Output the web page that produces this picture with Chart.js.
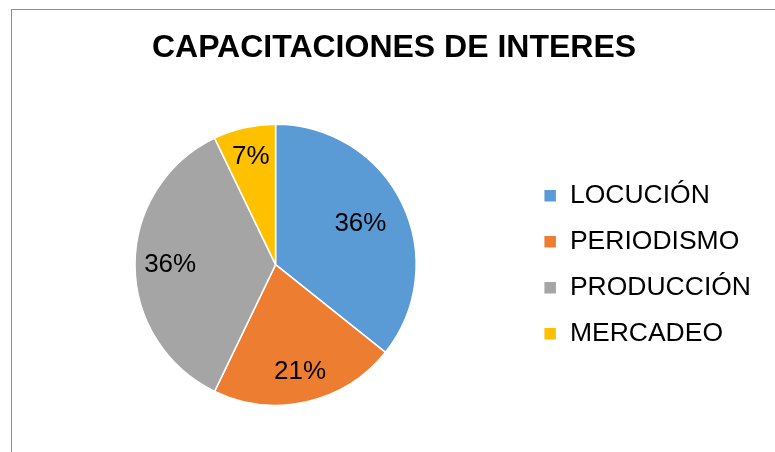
<!DOCTYPE html>
<html>
<head>
<meta charset="utf-8">
<script src="https://cdn.jsdelivr.net/npm/chart.js@4/dist/chart.umd.min.js"></script>
<style>
	html, body { margin: 0; padding: 0; background: #fff; }
	#wrap { position: relative; width: 775px; height: 452px; overflow: hidden; }
	#frame { position: absolute; left: 11px; top: 9px; width: 800px; height: 500px;
		border-left: 1px solid #8c8c8c; border-top: 1px solid #8c8c8c; pointer-events: none; }
	canvas { position: absolute; left: 0; top: 0; }
</style>
</head>
<body>
<div id="wrap">
	<canvas id="chart" width="775" height="452"></canvas>
	<div id="frame"></div>
</div>
<script>
// chart data
const categories = ["LOCUCIÓN", "PERIODISMO", "PRODUCCIÓN", "MERCADEO"];
const counts = [5, 3, 5, 1];
const sliceColors = ["#5B9BD5", "#ED7D31", "#A5A5A5", "#FFC000"];
const labelRadius = [0.67, 0.78, 0.75, 0.79]; // where each % label sits, as fraction of radius

// draws "36%" etc. inside each slice
const sliceLabels = {
	id: "sliceLabels",
	afterDatasetsDraw: function (chart) {
		const ctx = chart.ctx;
		const meta = chart.getDatasetMeta(0);
		const total = counts.reduce(function (a, b) { return a + b; }, 0);
		ctx.save();
		ctx.fillStyle = "#000";
		ctx.font = "26px 'Liberation Sans', Arial, sans-serif";
		ctx.textAlign = "center";
		ctx.textBaseline = "middle";
		meta.data.forEach(function (arc, i) {
			const mid = (arc.startAngle + arc.endAngle) / 2;
			const r = arc.outerRadius * labelRadius[i];
			const x = arc.x + Math.cos(mid) * r;
			const y = arc.y + Math.sin(mid) * r;
			ctx.fillText(Math.round(counts[i] / total * 100) + "%", x, y);
		});
		ctx.restore();
	}
};

new Chart(document.getElementById("chart"), {
	type: "pie",
	data: {
		labels: categories,
		datasets: [{
			data: counts,
			backgroundColor: sliceColors,
			borderColor: "#fff",
			borderWidth: 1.5
		}]
	},
	options: {
		responsive: false,
		animation: false,
		layout: { padding: { left: 27, right: 14, top: 0, bottom: 46 } },
		plugins: {
			title: {
				display: true,
				text: "CAPACITACIONES DE INTERES",
				color: "#000",
				font: { family: "'Liberation Sans', Arial, sans-serif", size: 32, weight: "bold" },
				padding: { top: 29, bottom: 56 }
			},
			legend: {
				position: "right",
				fullSize: false,
				labels: {
					color: "#000",
					boxWidth: 13,
					boxHeight: 13,
					padding: 19.5,
					font: { family: "'Liberation Sans', Arial, sans-serif", size: 26.5 }
				}
			},
			tooltip: { enabled: false }
		}
	},
	plugins: [sliceLabels]
});
</script>
</body>
</html>
